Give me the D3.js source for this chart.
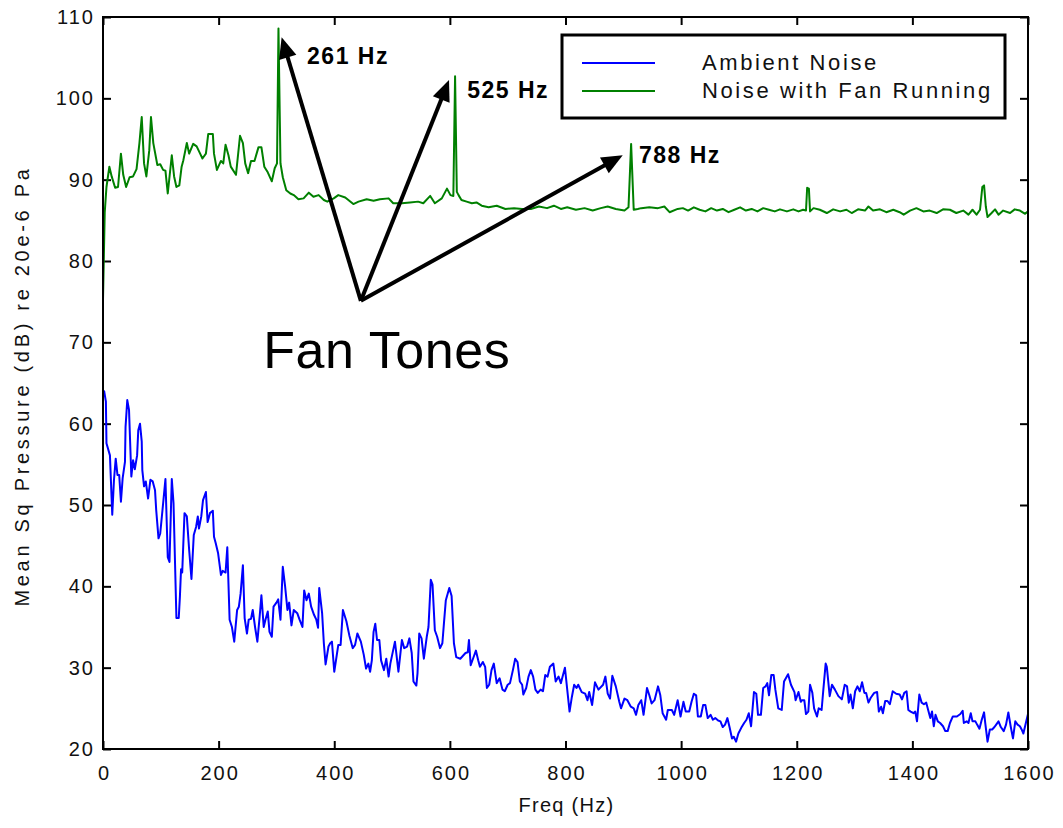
<!DOCTYPE html>
<html>
<head>
<meta charset="utf-8">
<script src="https://cdn.jsdelivr.net/npm/d3@7"></script>
<style>
  html, body { margin: 0; padding: 0; background: #fff; }
  svg text { font-family: Arial, "Liberation Sans", Helvetica, sans-serif; }
</style>
</head>
<body>
<svg id="chart" width="1063" height="828"></svg>
<script>
// ---------- data ----------
const seriesNames = ["Ambient Noise", "Noise with Fan Running"];
const xTicks = [0, 200, 400, 600, 800, 1000, 1200, 1400, 1600];
const yTicks = [20, 30, 40, 50, 60, 70, 80, 90, 100, 110];

const ambientHz = [0,2,5,6,12,16,19,22,25,28,31,34,38,39,42,45,49,52,55,59,61,64,67,68,71,74,78,82,86,90,92,96,99,104,108,112,115,119,122,127,131,133,135,137,141,145,149,153,157,161,164,166,170,173,178,181,185,190,192,195,199,204,207,212,215,219,223,227,232,235,238,242,245,249,252,256,259,263,267,271,274,278,281,285,288,292,295,300,303,307,311,315,319,322,326,330,336,340,345,348,352,356,360,365,369,372,374,379,382,385,390,393,396,400,407,411,415,421,426,432,436,440,446,451,455,459,462,465,468,471,474,478,481,486,490,494,497,505,511,517,521,526,530,534,537,542,544,547,551,555,560,563,567,570,574,578,583,587,590,593,599,603,607,611,618,627,631,633,636,642,645,649,652,657,661,664,668,672,676,681,686,691,695,700,704,709,713,717,721,725,727,732,736,740,744,748,752,757,761,765,769,773,779,783,788,792,795,799,803,807,811,815,819,822,828,834,838,841,846,851,857,865,869,873,877,881,887,893,896,902,907,913,918,922,926,931,935,941,945,949,954,960,964,968,974,977,984,988,994,999,1004,1008,1014,1018,1022,1026,1029,1034,1038,1042,1046,1051,1055,1059,1064,1068,1072,1076,1080,1084,1088,1091,1095,1099,1104,1109,1113,1117,1121,1126,1130,1133,1138,1142,1146,1149,1152,1156,1160,1163,1168,1174,1178,1185,1190,1196,1198,1203,1207,1209,1213,1216,1220,1223,1227,1230,1235,1238,1243,1246,1250,1252,1257,1261,1266,1272,1278,1283,1287,1290,1293,1297,1301,1305,1309,1313,1317,1320,1324,1328,1334,1339,1342,1346,1349,1353,1357,1361,1366,1372,1378,1382,1386,1390,1393,1397,1402,1405,1408,1412,1416,1420,1424,1428,1431,1434,1437,1440,1444,1448,1453,1457,1461,1465,1470,1477,1483,1487,1489,1494,1497,1501,1504,1509,1512,1516,1520,1524,1526,1530,1534,1538,1542,1545,1549,1553,1558,1562,1566,1570,1574,1578,1582,1586,1589,1592,1597,1600];
const ambientDb = [64.0,64.0,62.7,57.6,56.1,48.8,53.1,55.7,53.7,53.7,50.4,53.3,55.3,59.6,62.9,61.7,53.5,55.5,54.4,56.1,59.2,60.0,57.8,54.3,52.3,52.9,50.8,53.1,52.9,51.8,49.4,45.9,46.5,50.2,53.2,43.6,43.0,53.2,50.2,36.1,36.1,38.7,42.1,41.7,49.0,48.6,44.5,40.9,46.3,47.3,48.6,47.1,48.6,50.6,51.6,47.9,49.0,49.3,46.1,45.3,44.1,41.4,41.9,41.7,44.8,35.9,35.0,33.2,37.1,37.5,39.1,42.6,36.1,34.2,35.9,36.0,37.1,35.0,33.2,36.3,38.9,35.0,35.9,36.9,34.4,33.8,37.5,38.0,38.4,35.9,42.4,40.0,37.1,38.0,35.2,37.1,36.7,35.9,35.0,39.5,38.3,39.1,37.5,36.5,35.9,34.9,39.8,36.7,33.0,30.4,32.6,33.0,33.2,29.5,32.8,32.8,37.1,35.7,34.0,32.4,32.8,34.2,33.2,31.6,29.9,30.5,29.5,30.9,34.4,35.4,33.4,33.4,30.9,29.7,31.1,28.9,30.5,33.2,29.5,33.4,32.4,32.6,33.6,31.8,28.3,27.8,29.3,34.2,33.6,31.1,33.8,35.0,40.8,40.2,34.6,33.8,32.4,33.0,35.7,38.3,39.8,38.8,33.0,31.3,31.1,31.8,31.9,33.4,30.3,31.5,32.1,30.9,30.1,30.7,30.1,27.5,27.9,29.7,30.5,28.1,28.7,27.3,27.1,27.9,28.1,29.7,31.1,30.7,28.3,27.9,26.7,27.5,28.9,29.7,28.9,27.3,26.9,27.3,27.1,29.1,28.9,30.1,30.5,28.3,28.9,28.1,28.9,30.0,27.3,24.6,26.4,27.9,27.5,27.9,27.0,26.8,26.0,27.0,25.4,28.2,27.3,27.9,28.9,26.8,26.2,29.0,27.7,25.8,25.0,26.2,26.0,25.2,25.0,24.2,25.4,26.0,24.2,27.5,26.6,25.6,26.0,27.7,26.6,24.4,23.6,24.8,24.8,24.2,26.0,24.0,25.8,24.6,24.6,25.8,26.8,26.6,24.0,24.0,25.4,25.4,23.8,24.2,23.6,23.8,23.5,23.4,22.7,23.0,23.8,22.6,21.3,21.5,20.9,21.9,22.6,23.2,23.6,24.4,22.8,27.0,26.8,24.2,24.2,27.5,27.7,28.1,26.6,29.1,29.1,27.3,25.0,24.8,28.3,29.2,27.9,27.0,26.0,27.0,25.8,26.0,26.0,24.3,24.6,27.9,26.9,25.0,24.0,25.0,24.8,27.3,30.5,30.1,26.5,27.9,27.3,26.5,26.1,27.9,27.7,25.7,26.7,25.0,27.1,27.7,27.1,28.2,26.9,26.9,25.7,26.3,26.9,27.0,24.6,25.2,24.4,25.9,25.9,25.5,27.1,26.8,26.7,26.1,26.9,27.1,24.8,24.6,24.4,24.6,23.4,26.7,25.7,25.5,25.7,24.6,23.8,24.6,22.8,24.2,23.4,23.2,22.8,22.2,22.2,23.2,24.0,24.0,24.3,24.7,23.2,23.4,23.2,24.4,23.4,23.4,23.0,22.5,23.6,24.5,23.2,20.9,22.4,22.4,22.7,23.0,23.4,22.7,22.2,23.0,24.5,22.8,21.3,23.4,23.0,22.8,22.4,21.9,23.4,24.3];

const fanHz = [0,3,6,11,15,21,26,31,35,40,46,52,58,63,67,71,75,80,83,87,94,99,104,108,112,119,123,127,132,136,139,145,149,156,162,168,172,178,182,190,192,197,204,208,212,217,221,230,237,242,246,251,256,262,269,274,279,285,292,297,301,303.5,307,311,317,324,330,338,347,356,364,373,382,388,399,407,419,433,442,456,468,479,494,502,517,531,545,554,566,574,586,595,601,606,609,612,615,620,629,638,646,655,667,681,696,711,725,740,754,768,780,792,803,818,833,847,861,873,887,902,909,913.5,918,925,931,945,960,971,980,994,1003,1012,1022,1032,1042,1052,1062,1072,1082,1092,1102,1112,1122,1132,1142,1152,1162,1171,1183,1194,1203,1211,1216,1218,1221,1223,1229,1240,1252,1263,1275,1286,1295,1306,1318,1324,1332,1344,1355,1367,1378,1385,1396,1407,1419,1430,1442,1453,1465,1476,1488,1497,1504,1511,1517,1521,1524,1527,1530,1537,1543,1549,1557,1569,1577,1586,1595,1600];
const fanDb = [75.2,86.0,89.1,91.6,90.4,89.0,89.1,93.2,90.6,89.1,90.3,90.4,91.3,94.5,97.7,92.0,90.4,93.6,97.7,94.5,91.8,91.9,91.2,91.1,88.3,93.0,90.4,89.1,89.3,91.6,92.4,94.5,93.2,94.4,94.1,93.2,92.6,93.2,95.6,95.6,93.2,91.2,92.3,92.0,94.3,93.0,91.6,90.6,95.4,94.5,92.0,90.8,92.3,92.3,94.0,94.0,91.6,90.9,89.8,91.4,92.0,108.6,92.0,90.3,88.7,88.3,88.1,87.6,87.7,88.4,87.9,88.1,87.5,87.3,87.7,88.1,87.8,87.0,87.3,87.6,87.4,87.6,87.7,87.1,87.1,87.2,87.3,87.1,88.0,87.1,87.7,88.9,88.1,88.0,102.7,88.5,88.1,87.5,87.3,87.1,87.2,86.8,86.6,86.8,86.4,86.5,86.4,86.4,86.7,86.5,86.8,86.4,86.6,86.3,86.5,86.2,86.5,86.7,86.4,86.2,86.6,94.4,86.3,86.4,86.5,86.6,86.5,86.7,86.0,86.4,86.5,86.2,86.6,86.3,86.1,86.5,86.2,86.4,86.0,86.3,86.6,86.2,86.4,86.1,86.5,86.3,86.1,86.35,86.1,86.35,86.1,86.3,86.2,89.0,88.9,86.1,86.5,86.3,85.9,86.35,86.1,86.3,85.9,86.35,86.2,86.7,86.2,86.35,86.0,86.3,86.0,85.7,86.2,86.5,86.1,86.2,85.9,86.35,86.3,85.9,86.2,85.7,86.3,85.7,86.3,89.1,89.3,86.7,85.4,85.9,86.35,85.7,86.2,85.9,86.35,86.2,85.8,86.1];

// annotations: arrow tips and labels in data units (Hz, dB)
const arrowOrigin = [446, 75.1];
const arrowTips = [[309, 107.5], [598.5, 102.25], [899, 93.0]];
const toneLabels = ["261 Hz", "525 Hz", "788 Hz"];
const toneLabelPos = [[353, 104.2], [630, 100.0], [927, 92.1]];
const bigLabel = "Fan Tones";
const bigLabelPos = [277, 66.9];

// ---------- drawing ----------
const colors = ["#0000ff", "#008000"];
const plot = {left: 103, top: 17, right: 1028, bottom: 749};
const svg = d3.select("#chart");

const x = d3.scaleLinear().domain([0, 1600]).range([plot.left, plot.right]);
const y = d3.scaleLinear().domain([20, 110]).range([plot.bottom, plot.top]);

const fontSize = 20;
function styleAxis(g) {
  g.select(".domain").remove();
  g.selectAll(".tick line").attr("stroke", "#000").attr("stroke-width", 2);
  g.selectAll(".tick text").attr("fill", "#111").style("font-size", fontSize + "px")
    .style("letter-spacing", "2px").style("font-family", "Arial, 'Liberation Sans', sans-serif");
}

svg.append("g").attr("transform", `translate(0,${plot.bottom})`)
  .call(d3.axisBottom(x).tickValues(xTicks).tickSizeInner(-8).tickSizeOuter(0).tickPadding(17).tickFormat(d3.format("d")))
  .call(styleAxis)
  .selectAll(".tick text").attr("dx", "1px");
svg.append("g").attr("transform", `translate(0,${plot.top})`)
  .call(d3.axisTop(x).tickValues(xTicks).tickSizeInner(-8).tickSizeOuter(0).tickFormat(""))
  .call(styleAxis);
svg.append("g").attr("transform", `translate(${plot.left},0)`)
  .call(d3.axisLeft(y).tickValues(yTicks).tickSizeInner(-8).tickSizeOuter(0).tickPadding(8).tickFormat(d3.format("d")))
  .call(styleAxis);
svg.append("g").attr("transform", `translate(${plot.right},0)`)
  .call(d3.axisRight(y).tickValues(yTicks).tickSizeInner(-8).tickSizeOuter(0).tickFormat(""))
  .call(styleAxis);

// series
const line = d3.line().x(d => x(d[0])).y(d => y(d[1]));
const ambient = ambientHz.map((h, i) => [h, ambientDb[i]]);
const fan = fanHz.map((h, i) => [h, fanDb[i]]);
[ambient, fan].forEach((s, i) => {
  svg.append("path").datum(s).attr("d", line)
    .attr("fill", "none").attr("stroke", colors[i]).attr("stroke-width", 2)
    .attr("stroke-linejoin", "round");
});

// frame
svg.append("rect").attr("x", plot.left).attr("y", plot.top)
  .attr("width", plot.right - plot.left).attr("height", plot.bottom - plot.top)
  .attr("fill", "none").attr("stroke", "#000").attr("stroke-width", 2);

// arrows
const ox = x(arrowOrigin[0]), oy = y(arrowOrigin[1]);
arrowTips.forEach(t => {
  const tx = x(t[0]), ty = y(t[1]);
  const dx = tx - ox, dy = ty - oy, len = Math.hypot(dx, dy);
  const ux = dx / len, uy = dy / len;
  const headL = 21, headW = 9;
  const bx = tx - ux * headL, by = ty - uy * headL;
  svg.append("line").attr("x1", ox).attr("y1", oy).attr("x2", bx + ux * 2).attr("y2", by + uy * 2)
    .attr("stroke", "#000").attr("stroke-width", 4);
  svg.append("polygon")
    .attr("points", [[tx, ty], [bx - uy * headW, by + ux * headW], [bx + uy * headW, by - ux * headW]].map(p => p.join(",")).join(" "))
    .attr("fill", "#000");
});

toneLabels.forEach((t, i) => {
  svg.append("text").attr("x", x(toneLabelPos[i][0])).attr("y", y(toneLabelPos[i][1]))
    .text(t).style("font-size", "23px").style("font-weight", "bold").style("letter-spacing", "1.5px").attr("fill", "#000");
});
svg.append("text").attr("x", x(bigLabelPos[0])).attr("y", y(bigLabelPos[1]))
  .text(bigLabel).style("font-size", "52px").style("letter-spacing", "0.6px").attr("fill", "#000");

// axis titles
svg.append("text").attr("x", (plot.left + plot.right) / 2 + 1).attr("y", 812)
  .attr("text-anchor", "middle").text("Freq (Hz)")
  .style("font-size", "20px").style("letter-spacing", "1.3px").attr("fill", "#111");
svg.append("text").attr("transform", `translate(29,${(plot.top + plot.bottom) / 2 + 3}) rotate(-90)`)
  .attr("text-anchor", "middle").text("Mean Sq Pressure (dB) re 20e-6 Pa")
  .style("font-size", "20px").style("letter-spacing", "3.7px").attr("fill", "#111");

// legend
const lg = svg.append("g");
lg.append("rect").attr("x", 562).attr("y", 35).attr("width", 443).attr("height", 83)
  .attr("fill", "#fff").attr("stroke", "#000").attr("stroke-width", 3);
seriesNames.forEach((n, i) => {
  const ly = 63 + i * 28;
  lg.append("line").attr("x1", 582).attr("x2", 655).attr("y1", ly).attr("y2", ly)
    .attr("stroke", colors[i]).attr("stroke-width", 2);
  lg.append("text").attr("x", 702).attr("y", ly + 7).text(n)
    .style("font-size", "22px").style("letter-spacing", "2.6px").attr("fill", "#111");
});
</script>
</body>
</html>
